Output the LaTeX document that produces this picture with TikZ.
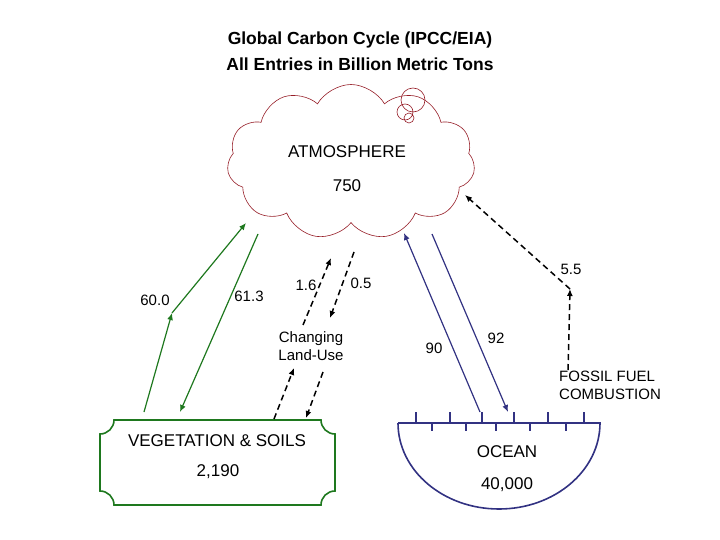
\documentclass[tikz,border=0pt]{standalone}
\usepackage{fontspec}
\setmainfont{Liberation Sans}
\usetikzlibrary{shapes.symbols,arrows.meta}
\definecolor{cloudred}{RGB}{150,30,40}
\definecolor{vgreen}{RGB}{30,120,30}
\definecolor{oblue}{RGB}{50,50,130}
\begin{document}
\begin{tikzpicture}[x=1pt,y=-1pt,
  lbl/.style={font=\fontsize{15}{18}\selectfont,inner sep=1pt},
  big/.style={font=\fontsize{17}{20}\selectfont,inner sep=1pt},
  ttl/.style={font=\bfseries\fontsize{17.5}{20}\selectfont,inner sep=1pt},
  garr/.style={draw=vgreen,line width=1.2pt,-{Latex[length=7pt,width=6pt]}},
  barr/.style={draw=oblue,line width=1.2pt,-{Latex[length=7pt,width=6pt]}},
  darr/.style={draw=black,line width=1.5pt,dash pattern=on 6pt off 4pt,-{Latex[length=7pt,width=6pt]}}]
\useasboundingbox (0,0) rectangle (720,540);
% title
\node[ttl] (t1) at (360,40) {Global Carbon Cycle (IPCC/EIA)};
\node[ttl] (t2) at (360,64) {All Entries in Billion Metric Tons};
% cloud
\node[cloud,cloud puffs=11,cloud puff arc=120,aspect=1.6,draw=cloudred,line width=0.6pt,minimum width=248pt,minimum height=155pt] (atm) at (351,162) {};
\draw[cloudred,line width=0.6pt] (413,100) circle (12) (405,112) circle (8) (409,118) circle (5);
\node[big] (atmt) at (347,152) {ATMOSPHERE};
\node[big] (atmv) at (347,186) {750};
% vegetation box
\draw[vgreen,line width=1.6pt] (100,434) arc[start angle=90,end angle=0,radius=14] -- (321,420) arc[start angle=180,end angle=90,radius=14] -- (335,491) arc[start angle=270,end angle=180,radius=14] -- (114,505) arc[start angle=0,end angle=-90,radius=14] -- cycle;
\node[big] (veg) at (217,441) {VEGETATION \& SOILS};
\node[big] (vegv) at (218,472) {2,190};
% ocean
\draw[oblue,line width=1.6pt] (398,423) -- (600,423) arc[start angle=0,end angle=180,x radius=101,y radius=86];
\foreach \x in {416,450,482,514,548,584} \draw[oblue,line width=1.3pt] (\x,423) -- (\x,412);
\foreach \x in {432,466,496,530,566} \draw[oblue,line width=1.3pt] (\x,423) -- (\x,431);
\node[big] (oc) at (507,452) {OCEAN};
\node[big] (ocv) at (507,485) {40,000};
% coordinates
\coordinate (g1a) at (144,412); \coordinate (g1b) at (172,313); \coordinate (g1c) at (246,223);
\coordinate (g2a) at (258,234); \coordinate (g2b) at (180,412);
\coordinate (d1a) at (303,325); \coordinate (d1b) at (331,258);
\coordinate (d2a) at (354,252); \coordinate (d2b) at (330,318);
\coordinate (d3a) at (274,419); \coordinate (d3b) at (294,368);
\coordinate (d4a) at (323,372); \coordinate (d4b) at (306,418);
\coordinate (b1a) at (480,412); \coordinate (b1b) at (404,233);
\coordinate (b2a) at (432,234); \coordinate (b2b) at (508,412);
\coordinate (f1a) at (568,370); \coordinate (f1b) at (570,289); \coordinate (f1c) at (465,195);
\draw[garr] (g1a) -- (g1b);
\draw[garr] (g1b) -- (g1c);
\draw[garr] (g2a) -- (g2b);
\draw[darr] (d1a) -- (d1b);
\draw[darr] (d2a) -- (d2b);
\draw[darr] (d3a) -- (d3b);
\draw[darr] (d4a) -- (d4b);
\draw[barr] (b1a) -- (b1b);
\draw[barr] (b2a) -- (b2b);
\draw[darr] (f1a) -- (f1b);
\draw[darr] (f1b) -- (f1c);
% labels
\node[lbl] (l60) at (155,300) {60.0};
\node[lbl] (l61) at (249,296) {61.3};
\node[lbl] (l16) at (306,285) {1.6};
\node[lbl] (l05) at (361,283) {0.5};
\node[lbl,align=center] (clu) at (311,346) {Changing\\Land-Use};
\node[lbl] (l90) at (434,348) {90};
\node[lbl] (l92) at (496,338) {92};
\node[lbl] (l55) at (571,269) {5.5};
\node[lbl,align=left,anchor=west] (ff) at (558,385) {FOSSIL FUEL\\COMBUSTION};
\end{tikzpicture}
\end{document}
